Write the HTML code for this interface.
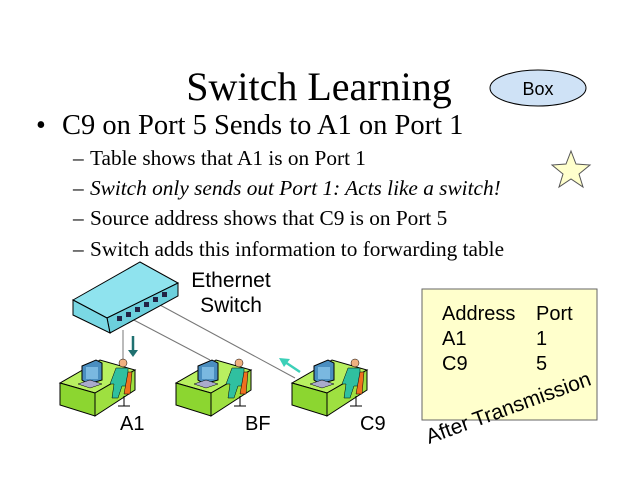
<!DOCTYPE html>
<html><head><meta charset="utf-8"><style>
body{margin:0;background:#fff}
svg{display:block}
.s{font-family:"Liberation Serif",serif}
.a{font-family:"Liberation Sans",sans-serif}
</style></head><body>
<svg width="640" height="480" viewBox="0 0 640 480" xmlns="http://www.w3.org/2000/svg">
<rect width="640" height="480" fill="#fff"/>
<text x="319" y="100" class="s" font-size="40" text-anchor="middle">Switch Learning</text>
<ellipse cx="538" cy="88" rx="48" ry="18" fill="#cfe2f6" stroke="#000" stroke-width="1"/>
<text x="538" y="95" class="a" font-size="18" text-anchor="middle">Box</text>
<polygon points="571,151 576,164 590,165 579,174 583,187 571,179 559,187 563,174 552,165 566,164" fill="#ffffcc" stroke="#555" stroke-width="1"/>
<text x="36" y="134" class="s" font-size="28">•</text>
<text x="62" y="134" class="s" font-size="28.5">C9 on Port 5 Sends to A1 on Port 1</text>
<g class="s" font-size="21.3">
<text x="73" y="165">–</text><text x="90" y="165">Table shows that A1 is on Port 1</text>
<text x="73" y="195">–</text><text x="90" y="195" font-style="italic">Switch only sends out Port 1: Acts like a switch!</text>
<text x="73" y="225">–</text><text x="90" y="225">Source address shows that C9 is on Port 5</text>
<text x="73" y="256">–</text><text x="90" y="256">Switch adds this information to forwarding table</text>
</g>
<line x1="123" y1="330" x2="123" y2="365" stroke="#777"/>
<line x1="130" y1="318" x2="210" y2="360" stroke="#777"/>
<line x1="160" y1="305" x2="295" y2="378" stroke="#777"/>
<polygon points="73,300 140,262 178,283 107,318" fill="#8fe3ee" stroke="#000"/>
<polygon points="107,318 178,283 178,296 110,333" fill="#6ccfdc" stroke="#000"/>
<polygon points="73,300 107,318 110,333 73,315" fill="#7ad8e4" stroke="#000"/>
<g fill="#224">
<rect x="117" y="316" width="5" height="5"/><rect x="126" y="312" width="5" height="5"/><rect x="135" y="307" width="5" height="5"/><rect x="144" y="302" width="5" height="5"/><rect x="153" y="297" width="5" height="5"/><rect x="162" y="292" width="5" height="5"/>
</g>
<line x1="133" y1="336" x2="133" y2="352" stroke="#1f7070" stroke-width="2.5"/>
<polygon points="128,350 138,350 133,357" fill="#1f7070"/>
<line x1="300" y1="372" x2="285" y2="362" stroke="#3cd0b8" stroke-width="2.5"/>
<polygon points="279,358 290,359 284,367" fill="#3cd0b8"/>
<defs>
<g id="ws">
<polygon points="0,25 40,2 75,12 35,35" fill="#b8f060" stroke="#000"/>
<polygon points="0,25 35,35 35,58 0,47" fill="#8cd630" stroke="#000"/>
<polygon points="35,35 75,12 75,32 35,58" fill="#9ee040" stroke="#000"/>
<polygon points="22,8 36,2 42,5 42,22 28,26 22,22" fill="#4a8ec0" stroke="#000"/>
<rect x="26" y="9" width="12" height="12" fill="#7ab8e0"/>
<polygon points="18,26 30,22 42,26 30,30" fill="#aac" stroke="#000" stroke-width=".5"/>
<circle cx="63" cy="5" r="4" fill="#f0b080" stroke="#000" stroke-width=".5"/>
<path d="M56,10 h12 v18 h-6 l-4,12 h-6 l2,-14 h-4z" fill="#30c0a0" stroke="#000" stroke-width=".5"/>
<path d="M68,14 l4,0 -2,22 h-6z" fill="#f07020" stroke="#000" stroke-width=".5"/>
<line x1="64" y1="38" x2="64" y2="48" stroke="#000"/>
<line x1="58" y1="48" x2="70" y2="48" stroke="#000"/>
</g>
</defs>
<use href="#ws" x="60" y="358"/>
<use href="#ws" x="176" y="358"/>
<use href="#ws" x="292" y="358"/>
<g class="a" font-size="20">
<text x="120" y="430">A1</text><text x="245" y="430">BF</text><text x="360" y="430">C9</text>
</g>
<g class="a" font-size="21">
<text x="231" y="287" text-anchor="middle">Ethernet</text>
<text x="231" y="312" text-anchor="middle">Switch</text>
</g>
<rect x="422" y="289" width="175" height="131" fill="#ffffcc" stroke="#666"/>
<g class="a" font-size="20">
<text x="442" y="320">Address</text><text x="536" y="320">Port</text>
<text x="442" y="345">A1</text><text x="536" y="345">1</text>
<text x="442" y="370">C9</text><text x="536" y="370">5</text>
<text x="0" y="0" font-size="21" transform="translate(429,444) rotate(-20)">After Transmission</text>
</g>
</svg>
</body></html>
